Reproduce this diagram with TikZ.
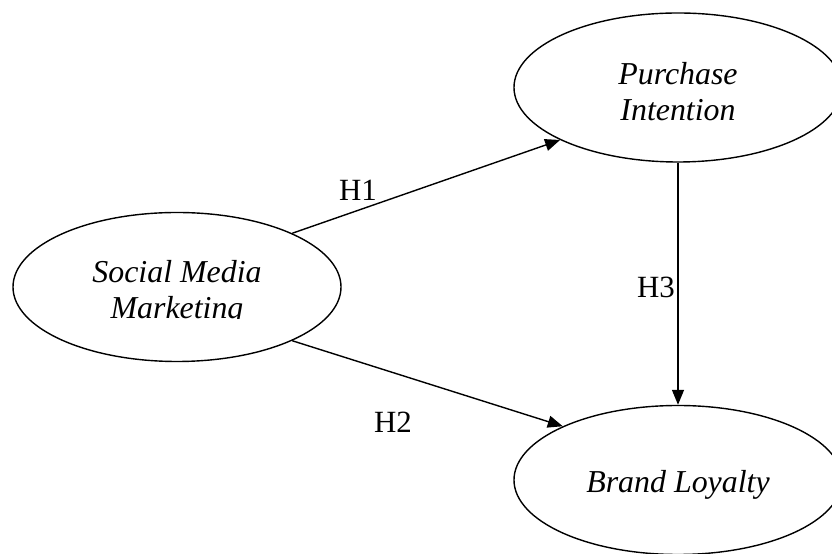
\documentclass[tikz,border=0pt]{standalone}
\usepackage{fontspec}
\setmainfont{Liberation Serif}
\usetikzlibrary{shapes.geometric,arrows.meta}
\begin{document}
\begin{tikzpicture}[x=1bp,y=1bp,
  ell/.style={draw, ellipse, line width=1.4bp, minimum width=328bp, minimum height=149bp, inner sep=0pt},
  lbl/.style={font=\fontsize{32}{36}\selectfont\itshape, align=center, inner sep=0pt},
  hyp/.style={font=\fontsize{31}{36}\selectfont, inner sep=0pt},
  conn/.style={line width=1.4bp, -{Triangle[length=15bp,width=12bp]}}]
\useasboundingbox (0,0) rectangle (832,554);
\node[ell] (smm) at (177,267) {};
\node[ell] (pi) at (678,466.5) {};
\node[ell] (bl) at (678,74) {};
\begin{scope}
  \clip (0,235) rectangle (400,400);
  \node[lbl] (smmt) at (177,261) {Social Media\\Marketing};
\end{scope}
\node[lbl] (pit) at (678,462) {Purchase\\Intention};
\node[lbl] (blt) at (678,69) {Brand Loyalty};
\draw[conn] (smm.25) -- (pi.204.4);
\draw[conn] (smm.335) -- (bl.155.9);
\draw[conn] (pi.south) -- (bl.north);
\node[hyp] (h1) at (358,364) {H1};
\node[hyp] (h2) at (393,132) {H2};
\node[hyp] (h3) at (656,267) {H3};
\end{tikzpicture}
\end{document}
